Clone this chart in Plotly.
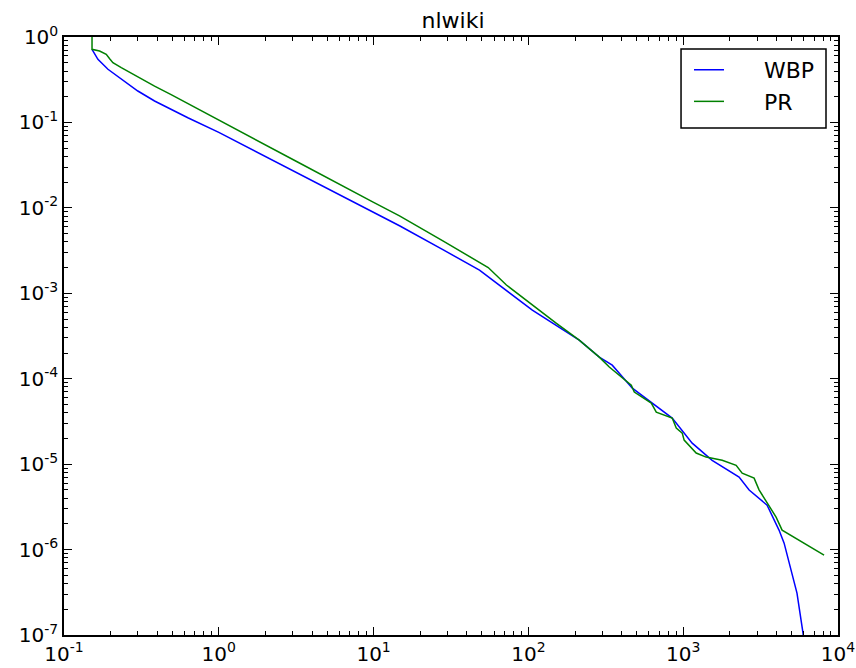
import plotly.graph_objects as go

# ---- data ----
wbp_x = [0.1517, 0.1656, 0.1923, 0.2344, 0.2999, 0.3846, 0.492, 0.631, 1.0, 3.16, 10.0, 14.7,
         28.2, 48.3, 106, 213, 287, 348, 469, 849, 1143, 1538, 2296, 2667, 3483, 4159, 4487,
         4977, 5433, 5943, 6166]
wbp_y = [0.718, 0.548, 0.419, 0.320, 0.2333, 0.1782, 0.1422, 0.1135, 0.0764, 0.0260, 0.00885,
         0.00617, 0.00322, 0.00187, 0.000635, 0.000283, 0.000179, 0.000144, 7.76e-5, 3.46e-5,
         1.76e-5, 1.11e-5, 7.05e-6, 4.97e-6, 3.31e-6, 1.69e-6, 1.19e-6, 5.75e-7, 3.09e-7,
         1.05e-7, 5e-8]

pr_x = [0.1517, 0.1517, 0.1698, 0.1875, 0.1972, 0.207, 0.2344, 0.2999, 0.3846, 0.492, 0.631,
        1.0, 3.16, 10.0, 14.7, 28.2, 48.3, 55, 72.1, 106, 151, 213, 287, 333, 462, 483, 622,
        670, 849, 902, 986, 1014, 1213, 1406, 1786, 2198, 2404, 2871, 3090, 3981, 4355, 8128]
pr_y = [1.12, 0.718, 0.6855, 0.6266, 0.557, 0.5, 0.4375, 0.3388, 0.266, 0.2113, 0.166, 0.1059,
        0.0351, 0.01161, 0.00807, 0.00408, 0.00232, 0.002, 0.00125, 0.000728, 0.000448,
        0.000283, 0.000179, 0.000137, 8.41e-5, 6.97e-5, 5.18e-5, 4.06e-5, 3.46e-5, 2.64e-5,
        2.31e-5, 1.91e-5, 1.35e-5, 1.21e-5, 1.11e-5, 9.7e-6, 7.85e-6, 6.85e-6, 5.0e-6, 2.4e-6,
        1.69e-6, 8.6e-7]

x_decades = [-1, 0, 1, 2, 3, 4]
y_decades = [-7, -6, -5, -4, -3, -2, -1, 0]

x_tickvals = [10 ** d for d in x_decades]
x_ticktext = [f"10<sup>{d}</sup>" for d in x_decades]
y_tickvals = [10 ** d for d in y_decades]
y_ticktext = [f"10<sup>{d}</sup>" for d in y_decades]
x_minor = [m * 10 ** d for d in x_decades[:-1] for m in range(2, 10)]
y_minor = [m * 10 ** d for d in y_decades[:-1] for m in range(2, 10)]

NB = "\u00a0"

fig = go.Figure()
fig.add_trace(go.Scatter(x=wbp_x, y=wbp_y, mode="lines", name=NB * 5 + "WBP",
                         legendgroup="wbp",
                         line=dict(color="#0000ff", width=1.5)))
fig.add_trace(go.Scatter(x=pr_x, y=pr_y, mode="lines", name=NB * 5 + "PR",
                         legendgroup="pr",
                         line=dict(color="#008000", width=1.5)))

axis_common = dict(
    type="log", showgrid=False, zeroline=False, showline=True, linecolor="black",
    linewidth=1.5, mirror="ticks", ticks="inside", ticklen=8, tickwidth=1,
    tickcolor="black", tickmode="array", automargin=False, ticklabeloverflow="allow",
    tickfont=dict(family="DejaVu Sans", size=20, color="black"),
)

fig.update_xaxes(**axis_common, range=[-1, 4], tickvals=x_tickvals, ticktext=x_ticktext,
                 minor=dict(ticks="inside", ticklen=4, tickcolor="black", tickvals=x_minor,
                            showgrid=False))
fig.update_yaxes(**axis_common, range=[-7, 0], tickvals=y_tickvals, ticktext=y_ticktext,
                 minor=dict(ticks="inside", ticklen=4, tickcolor="black", tickvals=y_minor,
                            showgrid=False))

# legend frame (matplotlib-style box)
fig.add_shape(type="rect", xref="paper", yref="paper",
              x0=0.7972, x1=0.9845, y0=0.8478, y1=0.98,
              line=dict(color="black", width=1.5), fillcolor="white", layer="below")

fig.update_layout(
    width=856, height=668,
    margin=dict(l=64, r=18, t=37, b=33),
    paper_bgcolor="white", plot_bgcolor="white",
    title=dict(text="nlwiki", x=0.5292, xanchor="center", y=0.9701, yanchor="middle",
               font=dict(family="DejaVu Sans", size=22, color="black")),
    legend=dict(x=0.8075, y=0.98, xanchor="left", yanchor="top",
                borderwidth=0, bgcolor="rgba(0,0,0,0)",
                font=dict(family="DejaVu Sans", size=22, color="black"),
                itemwidth=30, tracegroupgap=0),
    showlegend=True,
)

fig.write_html(
    "out.html",
    config={"displayModeBar": False},
    post_script="document.body.style.margin='0';document.body.style.overflow='hidden';",
)
